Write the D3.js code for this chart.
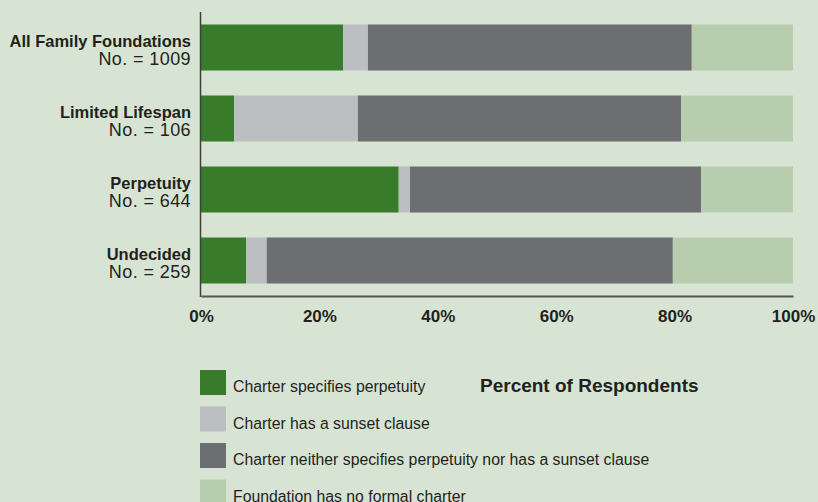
<!DOCTYPE html>
<html>
<head>
<meta charset="utf-8">
<script src="https://cdn.jsdelivr.net/npm/d3@7"></script>
<style>
  body { margin: 0; background: #d8e4d3; }
  svg { display: block; }
  text { fill: #231f20; font-family: "Liberation Sans", Arial, sans-serif; }
</style>
</head>
<body>
<div class="chart"></div>
<script>
var width = 818,
    height = 502;

// data (percent of respondents)
var categories = ["All Family Foundations", "Limited Lifespan", "Perpetuity", "Undecided"];
var counts = [1009, 106, 644, 259];
var perpetuity = [24.0, 5.6, 33.4, 7.6];
var sunset = [4.2, 20.9, 1.9, 3.5];
var neither = [54.7, 54.6, 49.2, 68.6];
var noCharter = [17.1, 18.9, 15.5, 20.3];
var tickValues = [0, 20, 40, 60, 80, 100];

var seriesNames = [
    "Charter specifies perpetuity",
    "Charter has a sunset clause",
    "Charter neither specifies perpetuity nor has a sunset clause",
    "Foundation has no formal charter"
];
var seriesKeys = ["perpetuity", "sunset", "neither", "noCharter"];
var colors = ["#377b2b", "#bdbec1", "#6d6e71", "#b7cdae"];

var rows = categories.map(function(c, i) {
    return {
        category: c,
        count: counts[i],
        perpetuity: perpetuity[i],
        sunset: sunset[i],
        neither: neither[i],
        noCharter: noCharter[i]
    };
});

var svg = d3.select("div.chart").append("svg")
    .attr("width", width)
    .attr("height", height);

var xScale = d3.scaleLinear().domain([0, 100]).range([201, 793]);
var yScale = d3.scaleBand()
    .domain(categories)
    .range([12, 296])
    .paddingInner(0.352)
    .paddingOuter(0.176);
var color = d3.scaleOrdinal().domain(seriesKeys).range(colors);

var stacked = d3.stack().keys(seriesKeys)(rows);

// bars
svg.append("g")
    .selectAll("g")
    .data(stacked)
    .enter()
    .append("g")
    .attr("fill", function(d) { return color(d.key); })
    .selectAll("rect")
    .data(function(d) { return d; })
    .enter()
    .append("rect")
    .attr("x", function(d) { return xScale(d[0]); })
    .attr("width", function(d) { return xScale(d[1]) - xScale(d[0]); })
    .attr("y", function(d) { return yScale(d.data.category); })
    .attr("height", yScale.bandwidth());

// x-axis
var xAxis = d3.axisBottom(xScale)
    .tickValues(tickValues)
    .tickSize(0)
    .tickPadding(14)
    .tickFormat(function(d) { return d + "%"; });

var gx = svg.append("g")
    .attr("class", "x__axis")
    .attr("transform", "translate(0,296)")
    .call(xAxis);
gx.select(".domain").attr("stroke", "#52574e").attr("stroke-width", 2);
gx.selectAll(".tick text")
    .attr("font-size", "17px")
    .attr("font-weight", "bold")
    .attr("font-family", "Liberation Sans, Arial, sans-serif")
    .attr("fill", "#231f20");

// y-axis line
svg.append("line")
    .attr("x1", 200.5).attr("x2", 200.5)
    .attr("y1", 12).attr("y2", 297)
    .attr("stroke", "#3d4139")
    .attr("stroke-width", 1.5);

// category labels
var labels = svg.append("g")
    .selectAll("text")
    .data(rows)
    .enter()
    .append("text")
    .attr("text-anchor", "end")
    .attr("x", 191)
    .attr("y", function(d) { return yScale(d.category) + yScale.bandwidth() / 2; });

labels.append("tspan")
    .attr("x", 191)
    .attr("dy", -1)
    .attr("font-size", "16.5px")
    .attr("font-weight", "bold")
    .text(function(d) { return d.category; });

labels.append("tspan")
    .attr("x", 191)
    .attr("dy", 18.5)
    .attr("font-size", "18px")
    .attr("letter-spacing", "0.4px")
    .text(function(d) { return "No. = " + d.count; });

// legend
var legend = svg.append("g")
    .selectAll("g")
    .data(seriesKeys)
    .enter()
    .append("g")
    .attr("transform", function(d, i) { return "translate(200," + (370 + i * 36.5) + ")"; });

legend.append("rect")
    .attr("width", 26)
    .attr("height", 25)
    .attr("fill", function(d) { return color(d); });

legend.append("text")
    .attr("x", 33)
    .attr("y", 22)
    .attr("font-size", "15.8px")
    .attr("fill", "#2b2b2b")
    .text(function(d, i) { return seriesNames[i]; });

// axis title
svg.append("text")
    .attr("x", 480)
    .attr("y", 392)
    .attr("font-size", "19px")
    .attr("font-weight", "bold")
    .text("Percent of Respondents");
</script>
</body>
</html>
